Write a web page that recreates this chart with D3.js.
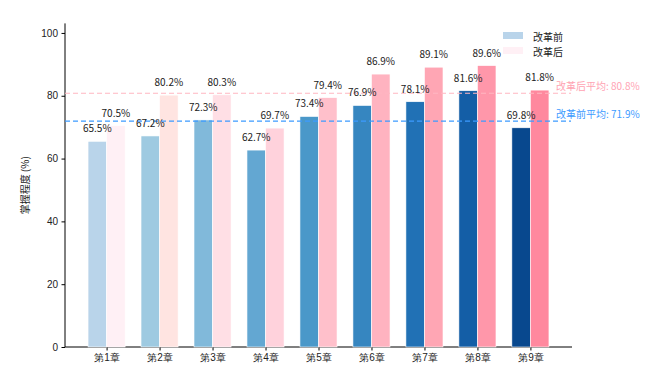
<!DOCTYPE html>
<html>
<head>
<meta charset="UTF-8">
<style>
  body { margin: 0; background: #fff; }
  svg { display: block; font-family: "Noto Sans CJK SC", "DejaVu Sans", sans-serif; }
  .axis path, .axis line { stroke: #000; stroke-width: 1px; }
  .axis text { font-size: 10px; fill: #222; }
</style>
</head>
<body>
<svg></svg>
<script src="https://cdn.jsdelivr.net/npm/d3@7"></script>
<script>
// chapter names and scores
let chapters = ["第1章","第2章","第3章","第4章","第5章","第6章","第7章","第8章","第9章"];
let before = [65.5, 67.2, 72.3, 62.7, 73.4, 76.9, 78.1, 81.6, 69.8];
let after = [70.5, 80.2, 80.3, 69.7, 79.4, 86.9, 89.1, 89.6, 81.8];
let yTicks = [0, 20, 40, 60, 80, 100];
let blueColors = ["#b9d4ea","#9ecae1","#81b9da","#63a7d2","#4a98c9","#3686c0","#2171b5","#145ea6","#08488e"];
let pinkColors = ["#fff0f5","#ffe4e1","#ffdfe5","#ffd2dc","#ffc0cb","#ffb3c0","#ffa6b4","#ff97aa","#ff889e"];
let avgBefore = 71.9, avgAfter = 80.8;

let width = 664, height = 389;
let svg = d3.select("svg").attr("width", width).attr("height", height);

let x = d3.scaleLinear().domain([-0.785, 8.785]).range([65, 572]);
let y = d3.scaleLinear().domain([0, 103.04]).range([347, 23.4]);
let bw = x(0.35) - x(0);

// y axis
let yAxis = svg.append("g")
    .attr("class", "axis")
    .attr("transform", "translate(65,0)")
    .call(d3.axisLeft(y).tickValues(yTicks).tickSize(3.5).tickPadding(3.5));
yAxis.select(".domain").attr("d", "M0," + y(103.04) + "V" + y(0));

// x axis
let xAxis = svg.append("g")
    .attr("class", "axis")
    .attr("transform", "translate(0,347)")
    .call(d3.axisBottom(x).tickValues(d3.range(9)).tickFormat(i => chapters[i]).tickSize(3.5).tickPadding(3.5));
xAxis.select(".domain").attr("d", "M65,0H572");

svg.append("text")
    .attr("transform", "translate(29," + y(51.5) + ") rotate(-90)")
    .attr("text-anchor", "middle")
    .style("font-size", "10px")
    .style("fill", "#222")
    .text("掌握程度 (%)");

// bars
svg.append("g").selectAll("rect")
    .data(before)
    .enter()
    .append("rect")
    .attr("x", (d, i) => x(i) - bw)
    .attr("y", d => y(d))
    .attr("width", bw)
    .attr("height", d => y(0) - y(d))
    .attr("fill", (d, i) => blueColors[i])
    .attr("stroke", "#fff")
    .attr("stroke-width", 0.6);

svg.append("g").selectAll("rect")
    .data(after)
    .enter()
    .append("rect")
    .attr("x", (d, i) => x(i))
    .attr("y", d => y(d))
    .attr("width", bw)
    .attr("height", d => y(0) - y(d))
    .attr("fill", (d, i) => pinkColors[i])
    .attr("stroke", "#fff")
    .attr("stroke-width", 0.6);

// average lines
svg.append("line")
    .attr("x1", 65).attr("x2", 571)
    .attr("y1", y(avgAfter)).attr("y2", y(avgAfter))
    .attr("stroke", "#ffb6c1").attr("stroke-width", 1.2)
    .attr("stroke-dasharray", "5,3");
svg.append("line")
    .attr("x1", 65).attr("x2", 571)
    .attr("y1", y(avgBefore)).attr("y2", y(avgBefore))
    .attr("stroke", "#3d9bff").attr("stroke-width", 1.2)
    .attr("stroke-dasharray", "5,3");

svg.append("text")
    .attr("x", 556).attr("y", y(avgAfter) - 3.5)
    .style("font-size", "10px").style("fill", "#ffa3b3")
    .text("改革后平均: " + avgAfter + "%");
svg.append("text")
    .attr("x", 556).attr("y", y(avgBefore) - 3.5)
    .style("font-size", "10px").style("fill", "#3d9bff")
    .text("改革前平均: " + avgBefore + "%");

// value labels
svg.append("g").selectAll("text")
    .data(before)
    .enter()
    .append("text")
    .attr("x", (d, i) => x(i) - bw / 2)
    .attr("y", d => y(d) - 9)
    .attr("text-anchor", "middle")
    .style("font-size", "10px").style("fill", "#222")
    .text(d => d.toFixed(1) + "%");

svg.append("g").selectAll("text")
    .data(after)
    .enter()
    .append("text")
    .attr("x", (d, i) => x(i) + bw / 2)
    .attr("y", d => y(d) - 9)
    .attr("text-anchor", "middle")
    .style("font-size", "10px").style("fill", "#222")
    .text(d => d.toFixed(1) + "%");

// legend
let legend = svg.append("g").attr("transform", "translate(503,32)");
legend.append("rect").attr("x", 0).attr("y", 0).attr("width", 20).attr("height", 7).attr("fill", blueColors[0]);
legend.append("rect").attr("x", 0).attr("y", 15).attr("width", 20).attr("height", 7).attr("fill", pinkColors[0]);
legend.append("text").attr("x", 30).attr("y", 8.5).style("font-size", "10px").style("fill", "#222").text("改革前");
legend.append("text").attr("x", 30).attr("y", 23.5).style("font-size", "10px").style("fill", "#222").text("改革后");
</script>
</body>
</html>
